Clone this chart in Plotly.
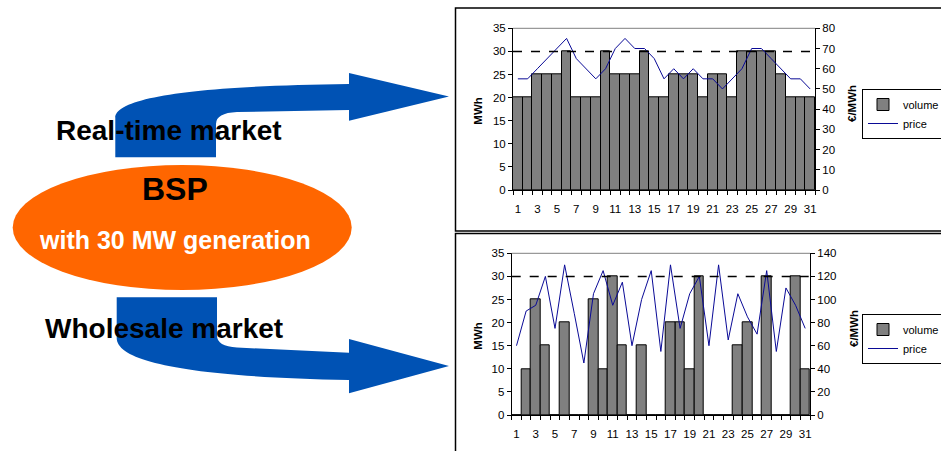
import plotly.graph_objects as go

W, H = 941, 451

days = list(range(1, 32))
rt_volume = [20, 20, 25, 25, 25, 30, 20, 20, 20, 30, 25, 25, 25, 30, 20, 20,
             25, 25, 25, 20, 25, 25, 20, 30, 30, 30, 30, 25, 20, 20, 20]
rt_price = [55, 55, 60, 65, 70, 75, 65, 60, 55, 60, 70, 75, 70, 70, 65, 55,
            60, 55, 60, 55, 55, 50, 55, 60, 70, 70, 65, 60, 55, 55, 50]
ws_volume = [0, 10, 25, 15, 0, 20, 0, 0, 25, 10, 30, 15, 0, 15, 0, 0,
             20, 20, 10, 30, 0, 0, 0, 15, 20, 0, 30, 0, 0, 30, 10]
ws_price = [60, 90, 95, 120, 75, 130, 88, 45, 105, 125, 95, 115, 60, 100, 125, 55,
            130, 75, 105, 120, 60, 130, 65, 105, 85, 70, 125, 55, 110, 95, 75]
capacity = 30
label_days = list(range(1, 32, 2))

FONT = "Arial, 'Liberation Sans', sans-serif"
BAR_COLOR = "#808080"
LINE_COLOR = "#0a0a96"
BLUE = "#0052B4"
ORANGE = "#FF6600"


def px(x):
    return x / W


def py(y):
    return 1 - y / H


def pt(x, y):
    return f"{px(x):.5f},{py(y):.5f}"


fig = go.Figure()

# Real-time market chart
fig.add_trace(go.Bar(x=days, y=rt_volume, name="volume", xaxis="x", yaxis="y",
                     marker=dict(color=BAR_COLOR, line=dict(color="black", width=1)),
                     legend="legend"))
fig.add_trace(go.Scatter(x=days, y=rt_price, name="price", mode="lines", xaxis="x", yaxis="y2",
                         line=dict(color=LINE_COLOR, width=1), legend="legend"))
# Wholesale market chart
fig.add_trace(go.Bar(x=days, y=ws_volume, name="volume", xaxis="x2", yaxis="y3",
                     marker=dict(color=BAR_COLOR, line=dict(color="black", width=1)),
                     legend="legend2"))
fig.add_trace(go.Scatter(x=days, y=ws_price, name="price", mode="lines", xaxis="x2", yaxis="y4",
                         line=dict(color=LINE_COLOR, width=1), legend="legend2"))

tickfont = dict(family=FONT, size=11.5, color="black")

xcommon = dict(range=[0.5, 31.5], tickvals=label_days, ticks="", showline=True,
               linecolor="black", linewidth=1, showgrid=False, zeroline=False,
               tickfont=tickfont, ticklabelstandoff=8,
               minor=dict(tickvals=[d + 0.5 for d in range(0, 32)], ticks="outside",
                          ticklen=4, tickcolor="black", showgrid=False))
ycommon = dict(showline=True, linecolor="black", linewidth=1, showgrid=False,
               zeroline=False, ticks="outside", ticklen=4, tickcolor="black",
               tickfont=tickfont)

top_dom = [py(190), py(28.3)]
bot_dom = [py(415), py(253.3)]

legend_common = dict(xanchor="left", yanchor="top", bordercolor="black", borderwidth=1,
                     bgcolor="white", font=dict(family=FONT, size=11), tracegroupgap=0,
                     itemwidth=30)

fig.update_layout(
    width=W, height=H, margin=dict(l=0, r=0, t=0, b=0, autoexpand=False),
    paper_bgcolor="white", plot_bgcolor="white",
    font=dict(family=FONT, color="black"),
    bargap=0,
    xaxis=dict(domain=[px(513), px(815)], anchor="y", **xcommon),
    yaxis=dict(domain=top_dom, anchor="x", range=[0, 35], dtick=5, **ycommon),
    yaxis2=dict(overlaying="y", side="right", anchor="x", range=[0, 80], dtick=10, **ycommon),
    xaxis2=dict(domain=[px(511.7), px(810)], anchor="y3", **xcommon),
    yaxis3=dict(domain=bot_dom, anchor="x2", range=[0, 35], dtick=5, **ycommon),
    yaxis4=dict(overlaying="y3", side="right", anchor="x2", range=[0, 140], dtick=20, **ycommon),
    legend=dict(x=px(862), y=py(89), **legend_common),
    legend2=dict(x=px(862), y=py(314), **legend_common),
)

shapes = []
# Chart frames
shapes.append(dict(type="rect", xref="paper", yref="paper", x0=px(455.5), x1=px(960),
                   y0=py(8), y1=py(231), line=dict(color="black", width=1.5)))
shapes.append(dict(type="rect", xref="paper", yref="paper", x0=px(455.5), x1=px(960),
                   y0=py(233.5), y1=py(470), line=dict(color="black", width=1.5)))
# Plot-area top borders
for xr, yr in (("x", "y"), ("x2", "y3")):
    shapes.append(dict(type="line", xref=f"{xr} domain", yref=f"{yr} domain",
                       x0=0, x1=1, y0=1, y1=1, line=dict(color="#808080", width=1)))
# Capacity lines (dashed)
shapes.append(dict(type="line", xref="x domain", yref="y", x0=0, x1=1,
                   y0=capacity, y1=capacity, line=dict(color="black", width=1.5, dash="dash")))
shapes.append(dict(type="line", xref="x2 domain", yref="y3", x0=0, x1=1,
                   y0=capacity, y1=capacity, line=dict(color="black", width=1.5, dash="dash")))

# Orange ellipse
shapes.append(dict(type="circle", xref="paper", yref="paper", x0=px(12.7), x1=px(351.7),
                   y0=py(290), y1=py(165), fillcolor=ORANGE, line=dict(width=0)))

# Blue curved arrows
top_arrow = (f"M{pt(115.3,157.3)} L{pt(115.3,118)} C{pt(115.3,98)} {pt(190,86)} {pt(349,84)} "
             f"L{pt(349,73)} L{pt(449,96.5)} L{pt(349,120.7)} L{pt(349,110)} L{pt(237,112)} "
             f"Q{pt(216,113)} {pt(216,124)} L{pt(216,157.3)} Z")
bot_arrow = (f"M{pt(116.7,297.3)} L{pt(217,297.3)} L{pt(217,336)} Q{pt(217,346)} {pt(237,347.5)} "
             f"L{pt(349,352.7)} L{pt(349,339)} L{pt(449,366)} L{pt(349,393.3)} L{pt(349,380)} "
             f"C{pt(190,377)} {pt(116.7,362)} {pt(116.7,338)} Z")
for p in (top_arrow, bot_arrow):
    shapes.append(dict(type="path", xref="paper", yref="paper", path=p,
                       fillcolor=BLUE, line=dict(width=0)))

fig.update_layout(shapes=shapes)


def ann(text, x, y, size, color="black", bold=True, angle=0):
    fig.add_annotation(text=f"<b>{text}</b>" if bold else text, x=px(x), y=py(y),
                       xref="paper", yref="paper", xanchor="center", yanchor="middle",
                       showarrow=False, textangle=angle,
                       font=dict(family=FONT, size=size, color=color))


ann("Real-time market", 168.8, 130, 28)
ann("Wholesale market", 163.7, 328.3, 28)
ann("BSP", 175, 188.6, 32)
ann("with 30 MW generation", 174.5, 240.4, 25, color="white")
ann("MWh", 477.7, 111, 11.5, angle=-90)
ann("MWh", 477.7, 336, 11.5, angle=-90)
ann("€/MWh", 852, 104, 11.5, angle=-90)
ann("€/MWh", 854, 329, 11.5, angle=-90)

fig.write_html("out.html")
